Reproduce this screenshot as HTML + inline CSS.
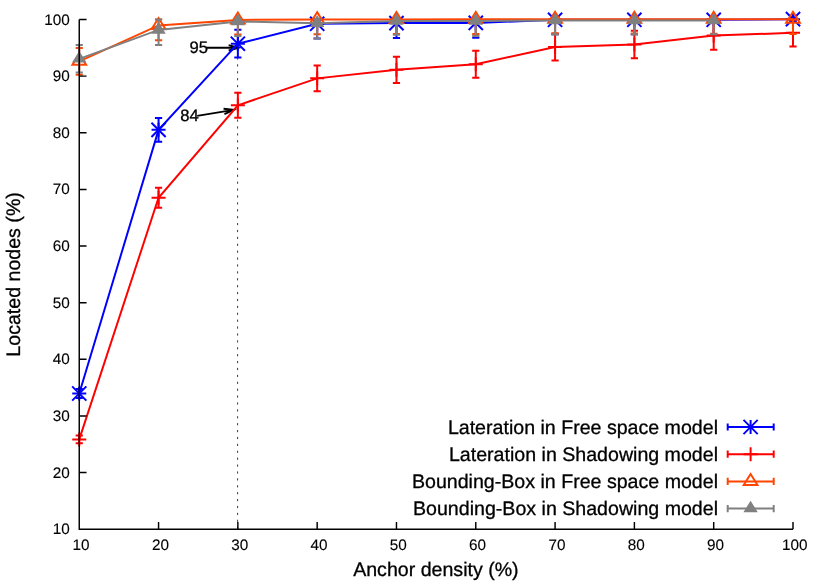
<!DOCTYPE html>
<html><head><meta charset="utf-8"><title>Located nodes vs anchor density</title>
<style>
html,body{margin:0;padding:0;background:#fff;}
body{width:830px;height:581px;overflow:hidden;}
svg{display:block;font-family:"Liberation Sans",sans-serif;fill:#000;will-change:transform;}
text{text-rendering:geometricPrecision;stroke:#000;stroke-width:0.3px;}
text.t{stroke-width:0.12px;}
</style></head><body>
<svg width="830" height="581" viewBox="0 0 830 581">
<rect x="0" y="0" width="830" height="581" fill="#fff"/>
<line x1="237.60" y1="528.80" x2="237.60" y2="47.80" stroke="#000" stroke-width="0.78" stroke-dasharray="2.2 4.7"/>
<path fill="none" stroke="#000" stroke-width="1.90" stroke-linejoin="miter" d="M206.20 47.80L238.50 47.80M228.67 50.53L238.50 47.80L228.67 45.07"/>
<path fill="none" stroke="#000" stroke-width="1.90" stroke-linejoin="miter" d="M197.20 115.90L233.70 109.90M224.44 114.18L233.70 109.90L223.56 108.80"/>
<text x="207.9" y="53.2" text-anchor="end" font-size="16.6">95</text>
<text x="198.7" y="121.0" text-anchor="end" font-size="16.6">84</text>
<polyline fill="none" stroke="#0000ff" stroke-width="1.98" stroke-linejoin="miter" points="79.25,393.50 158.56,129.85 237.86,43.70 317.17,23.80 396.47,23.10 475.78,22.90 555.08,19.80 634.39,19.80 713.69,19.80 793.00,19.15"/>
<path fill="none" stroke="#0000ff" stroke-width="1.98" d="M79.25 388.90V398.10M75.65 388.90H82.85M75.65 398.10H82.85"/>
<path fill="none" stroke="#0000ff" stroke-width="1.98" d="M158.56 118.05V141.65M154.96 118.05H162.16M154.96 141.65H162.16"/>
<path fill="none" stroke="#0000ff" stroke-width="1.98" d="M237.86 29.85V57.55M234.26 29.85H241.46M234.26 57.55H241.46"/>
<path fill="none" stroke="#0000ff" stroke-width="1.98" d="M317.17 19.50V38.40M313.57 19.50H320.77M313.57 38.40H320.77"/>
<path fill="none" stroke="#0000ff" stroke-width="1.98" d="M396.47 19.50V37.90M392.87 19.50H400.07M392.87 37.90H400.07"/>
<path fill="none" stroke="#0000ff" stroke-width="1.98" d="M475.78 19.50V37.70M472.18 19.50H479.38M472.18 37.70H479.38"/>
<path fill="none" stroke="#0000ff" stroke-width="1.98" d="M555.08 19.50V34.30M551.48 19.50H558.68M551.48 34.30H558.68"/>
<path fill="none" stroke="#0000ff" stroke-width="1.98" d="M634.39 19.50V34.30M630.79 19.50H637.99M630.79 34.30H637.99"/>
<path fill="none" stroke="#0000ff" stroke-width="1.98" d="M713.69 19.50V34.30M710.09 19.50H717.29M710.09 34.30H717.29"/>
<path fill="none" stroke="#0000ff" stroke-width="1.98" d="M793.00 17.70V20.60M789.40 17.70H796.60M789.40 20.60H796.60"/>
<path fill="none" stroke="#0000ff" stroke-width="1.98" d="M72.25 393.50H86.25M79.25 386.50V400.50"/>
<path fill="none" stroke="#0000ff" stroke-width="1.98" d="M72.15 386.40L86.35 400.60M72.15 400.60L86.35 386.40"/>
<path fill="none" stroke="#0000ff" stroke-width="1.98" d="M151.56 129.85H165.56M158.56 122.85V136.85"/>
<path fill="none" stroke="#0000ff" stroke-width="1.98" d="M151.46 122.75L165.66 136.95M151.46 136.95L165.66 122.75"/>
<path fill="none" stroke="#0000ff" stroke-width="1.98" d="M230.86 43.70H244.86M237.86 36.70V50.70"/>
<path fill="none" stroke="#0000ff" stroke-width="1.98" d="M230.76 36.60L244.96 50.80M230.76 50.80L244.96 36.60"/>
<path fill="none" stroke="#0000ff" stroke-width="1.98" d="M310.17 23.80H324.17M317.17 16.80V30.80"/>
<path fill="none" stroke="#0000ff" stroke-width="1.98" d="M310.07 16.70L324.27 30.90M310.07 30.90L324.27 16.70"/>
<path fill="none" stroke="#0000ff" stroke-width="1.98" d="M389.47 23.10H403.47M396.47 16.10V30.10"/>
<path fill="none" stroke="#0000ff" stroke-width="1.98" d="M389.37 16.00L403.57 30.20M389.37 30.20L403.57 16.00"/>
<path fill="none" stroke="#0000ff" stroke-width="1.98" d="M468.78 22.90H482.78M475.78 15.90V29.90"/>
<path fill="none" stroke="#0000ff" stroke-width="1.98" d="M468.68 15.80L482.88 30.00M468.68 30.00L482.88 15.80"/>
<path fill="none" stroke="#0000ff" stroke-width="1.98" d="M548.08 19.80H562.08M555.08 12.80V26.80"/>
<path fill="none" stroke="#0000ff" stroke-width="1.98" d="M547.98 12.70L562.18 26.90M547.98 26.90L562.18 12.70"/>
<path fill="none" stroke="#0000ff" stroke-width="1.98" d="M627.39 19.80H641.39M634.39 12.80V26.80"/>
<path fill="none" stroke="#0000ff" stroke-width="1.98" d="M627.29 12.70L641.49 26.90M627.29 26.90L641.49 12.70"/>
<path fill="none" stroke="#0000ff" stroke-width="1.98" d="M706.69 19.80H720.69M713.69 12.80V26.80"/>
<path fill="none" stroke="#0000ff" stroke-width="1.98" d="M706.59 12.70L720.79 26.90M706.59 26.90L720.79 12.70"/>
<path fill="none" stroke="#0000ff" stroke-width="1.98" d="M786.00 19.15H800.00M793.00 12.15V26.15"/>
<path fill="none" stroke="#0000ff" stroke-width="1.98" d="M785.90 12.05L800.10 26.25M785.90 26.25L800.10 12.05"/>
<polyline fill="none" stroke="#ff0000" stroke-width="1.98" stroke-linejoin="miter" points="79.25,439.40 158.56,197.75 237.86,105.25 317.17,78.35 396.47,69.80 475.78,64.20 555.08,47.00 634.39,44.50 713.69,35.50 793.00,32.85"/>
<path fill="none" stroke="#ff0000" stroke-width="1.98" d="M79.25 435.60V443.20M75.65 435.60H82.85M75.65 443.20H82.85"/>
<path fill="none" stroke="#ff0000" stroke-width="1.98" d="M158.56 187.70V207.80M154.96 187.70H162.16M154.96 207.80H162.16"/>
<path fill="none" stroke="#ff0000" stroke-width="1.98" d="M237.86 92.70V117.80M234.26 92.70H241.46M234.26 117.80H241.46"/>
<path fill="none" stroke="#ff0000" stroke-width="1.98" d="M317.17 65.45V91.25M313.57 65.45H320.77M313.57 91.25H320.77"/>
<path fill="none" stroke="#ff0000" stroke-width="1.98" d="M396.47 56.70V82.90M392.87 56.70H400.07M392.87 82.90H400.07"/>
<path fill="none" stroke="#ff0000" stroke-width="1.98" d="M475.78 50.70V77.70M472.18 50.70H479.38M472.18 77.70H479.38"/>
<path fill="none" stroke="#ff0000" stroke-width="1.98" d="M555.08 33.50V60.50M551.48 33.50H558.68M551.48 60.50H558.68"/>
<path fill="none" stroke="#ff0000" stroke-width="1.98" d="M634.39 30.80V58.20M630.79 30.80H637.99M630.79 58.20H637.99"/>
<path fill="none" stroke="#ff0000" stroke-width="1.98" d="M713.69 21.20V49.80M710.09 21.20H717.29M710.09 49.80H717.29"/>
<path fill="none" stroke="#ff0000" stroke-width="1.98" d="M793.00 19.50V46.60M789.40 19.50H796.60M789.40 46.60H796.60"/>
<path fill="none" stroke="#ff0000" stroke-width="1.98" d="M72.25 439.40H86.25M79.25 432.40V446.40"/>
<path fill="none" stroke="#ff0000" stroke-width="1.98" d="M151.56 197.75H165.56M158.56 190.75V204.75"/>
<path fill="none" stroke="#ff0000" stroke-width="1.98" d="M230.86 105.25H244.86M237.86 98.25V112.25"/>
<path fill="none" stroke="#ff0000" stroke-width="1.98" d="M310.17 78.35H324.17M317.17 71.35V85.35"/>
<path fill="none" stroke="#ff0000" stroke-width="1.98" d="M389.47 69.80H403.47M396.47 62.80V76.80"/>
<path fill="none" stroke="#ff0000" stroke-width="1.98" d="M468.78 64.20H482.78M475.78 57.20V71.20"/>
<path fill="none" stroke="#ff0000" stroke-width="1.98" d="M548.08 47.00H562.08M555.08 40.00V54.00"/>
<path fill="none" stroke="#ff0000" stroke-width="1.98" d="M627.39 44.50H641.39M634.39 37.50V51.50"/>
<path fill="none" stroke="#ff0000" stroke-width="1.98" d="M706.69 35.50H720.69M713.69 28.50V42.50"/>
<path fill="none" stroke="#ff0000" stroke-width="1.98" d="M786.00 32.85H800.00M793.00 25.85V39.85"/>
<polyline fill="none" stroke="#ff4500" stroke-width="1.98" stroke-linejoin="miter" points="79.25,61.30 158.56,25.40 237.86,19.90 317.17,19.60 396.47,19.50 475.78,19.35 555.08,19.25 634.39,19.25 713.69,19.20 793.00,19.15"/>
<path fill="none" stroke="#ff4500" stroke-width="1.98" d="M79.25 48.00V74.80M75.65 48.00H82.85M75.65 74.80H82.85"/>
<path fill="none" stroke="#ff4500" stroke-width="1.98" d="M158.56 19.50V40.20M154.96 19.50H162.16M154.96 40.20H162.16"/>
<path fill="none" stroke="#ff4500" stroke-width="1.98" d="M237.86 19.50V34.60M234.26 19.50H241.46M234.26 34.60H241.46"/>
<path fill="none" stroke="#ff4500" stroke-width="1.98" d="M317.17 19.50V34.30M313.57 19.50H320.77M313.57 34.30H320.77"/>
<path fill="none" stroke="#ff4500" stroke-width="1.98" d="M396.47 19.50V33.90M392.87 19.50H400.07M392.87 33.90H400.07"/>
<path fill="none" stroke="#ff4500" stroke-width="1.98" d="M475.78 19.50V33.90M472.18 19.50H479.38M472.18 33.90H479.38"/>
<path fill="none" stroke="#ff4500" stroke-width="1.98" d="M555.08 19.50V33.50M551.48 19.50H558.68M551.48 33.50H558.68"/>
<path fill="none" stroke="#ff4500" stroke-width="1.98" d="M634.39 19.50V33.60M630.79 19.50H637.99M630.79 33.60H637.99"/>
<path fill="none" stroke="#ff4500" stroke-width="1.98" d="M713.69 19.50V33.80M710.09 19.50H717.29M710.09 33.80H717.29"/>
<path fill="none" stroke="#ff4500" stroke-width="1.98" d="M793.00 19.50V33.90M789.40 19.50H796.60M789.40 33.90H796.60"/>
<polygon fill="none" stroke="#ff4500" stroke-width="1.98" stroke-linejoin="miter" points="79.25,53.90 72.40,64.80 86.10,64.80"/>
<polygon fill="none" stroke="#ff4500" stroke-width="1.98" stroke-linejoin="miter" points="158.56,18.00 151.71,28.90 165.41,28.90"/>
<polygon fill="none" stroke="#ff4500" stroke-width="1.98" stroke-linejoin="miter" points="237.86,12.50 231.01,23.40 244.71,23.40"/>
<polygon fill="none" stroke="#ff4500" stroke-width="1.98" stroke-linejoin="miter" points="317.17,12.20 310.32,23.10 324.02,23.10"/>
<polygon fill="none" stroke="#ff4500" stroke-width="1.98" stroke-linejoin="miter" points="396.47,12.10 389.62,23.00 403.32,23.00"/>
<polygon fill="none" stroke="#ff4500" stroke-width="1.98" stroke-linejoin="miter" points="475.78,11.95 468.93,22.85 482.63,22.85"/>
<polygon fill="none" stroke="#ff4500" stroke-width="1.98" stroke-linejoin="miter" points="555.08,11.85 548.23,22.75 561.93,22.75"/>
<polygon fill="none" stroke="#ff4500" stroke-width="1.98" stroke-linejoin="miter" points="634.39,11.85 627.54,22.75 641.24,22.75"/>
<polygon fill="none" stroke="#ff4500" stroke-width="1.98" stroke-linejoin="miter" points="713.69,11.80 706.84,22.70 720.54,22.70"/>
<polygon fill="none" stroke="#ff4500" stroke-width="1.98" stroke-linejoin="miter" points="793.00,11.75 786.15,22.65 799.85,22.65"/>
<polyline fill="none" stroke="#808080" stroke-width="1.98" stroke-linejoin="miter" points="79.25,58.85 158.56,29.90 237.86,21.40 317.17,23.20 396.47,21.00 475.78,20.90 555.08,20.55 634.39,20.55 713.69,20.55"/>
<path fill="none" stroke="#808080" stroke-width="1.98" d="M79.25 45.10V72.60M75.65 45.10H82.85M75.65 72.60H82.85"/>
<path fill="none" stroke="#808080" stroke-width="1.98" d="M158.56 19.50V44.90M154.96 19.50H162.16M154.96 44.90H162.16"/>
<path fill="none" stroke="#808080" stroke-width="1.98" d="M237.86 19.50V36.00M234.26 19.50H241.46M234.26 36.00H241.46"/>
<path fill="none" stroke="#808080" stroke-width="1.98" d="M317.17 19.50V38.40M313.57 19.50H320.77M313.57 38.40H320.77"/>
<path fill="none" stroke="#808080" stroke-width="1.98" d="M396.47 19.50V34.80M392.87 19.50H400.07M392.87 34.80H400.07"/>
<path fill="none" stroke="#808080" stroke-width="1.98" d="M475.78 19.50V35.90M472.18 19.50H479.38M472.18 35.90H479.38"/>
<path fill="none" stroke="#808080" stroke-width="1.98" d="M555.08 19.50V34.50M551.48 19.50H558.68M551.48 34.50H558.68"/>
<path fill="none" stroke="#808080" stroke-width="1.98" d="M634.39 19.50V34.60M630.79 19.50H637.99M630.79 34.60H637.99"/>
<path fill="none" stroke="#808080" stroke-width="1.98" d="M713.69 19.50V34.30M710.09 19.50H717.29M710.09 34.30H717.29"/>
<polygon fill="#808080" stroke="none" points="79.25,51.00 72.05,62.60 86.45,62.60"/>
<polygon fill="#808080" stroke="none" points="158.56,22.05 151.36,33.65 165.76,33.65"/>
<polygon fill="#808080" stroke="none" points="237.86,13.55 230.66,25.15 245.06,25.15"/>
<polygon fill="#808080" stroke="none" points="317.17,15.35 309.97,26.95 324.37,26.95"/>
<polygon fill="#808080" stroke="none" points="396.47,13.15 389.27,24.75 403.67,24.75"/>
<polygon fill="#808080" stroke="none" points="475.78,13.05 468.58,24.65 482.98,24.65"/>
<polygon fill="#808080" stroke="none" points="555.08,12.70 547.88,24.30 562.28,24.30"/>
<polygon fill="#808080" stroke="none" points="634.39,12.70 627.19,24.30 641.59,24.30"/>
<polygon fill="#808080" stroke="none" points="713.69,12.70 706.49,24.30 720.89,24.30"/>
<text x="718.0" y="433.50" text-anchor="end" font-size="19.6">Lateration in Free space model</text>
<path fill="none" stroke="#0000ff" stroke-width="1.98" d="M727.70 427.00H773.70M727.70 423.40V430.60M773.70 423.40V430.60"/>
<path fill="none" stroke="#0000ff" stroke-width="1.98" d="M743.60 427.00H757.60M750.60 420.00V434.00"/>
<path fill="none" stroke="#0000ff" stroke-width="1.98" d="M743.50 419.90L757.70 434.10M743.50 434.10L757.70 419.90"/>
<text x="718.0" y="460.70" text-anchor="end" font-size="19.6">Lateration in Shadowing model</text>
<path fill="none" stroke="#ff0000" stroke-width="1.98" d="M727.70 454.20H773.70M727.70 450.60V457.80M773.70 450.60V457.80"/>
<path fill="none" stroke="#ff0000" stroke-width="1.98" d="M743.60 454.20H757.60M750.60 447.20V461.20"/>
<text x="718.0" y="487.90" text-anchor="end" font-size="19.6">Bounding-Box in Free space model</text>
<path fill="none" stroke="#ff4500" stroke-width="1.98" d="M727.70 481.40H773.70M727.70 477.80V485.00M773.70 477.80V485.00"/>
<polygon fill="none" stroke="#ff4500" stroke-width="1.98" stroke-linejoin="miter" points="750.60,474.00 743.75,484.90 757.45,484.90"/>
<text x="718.0" y="515.10" text-anchor="end" font-size="19.6">Bounding-Box in Shadowing model</text>
<path fill="none" stroke="#808080" stroke-width="1.98" d="M727.70 508.60H773.70M727.70 505.00V512.20M773.70 505.00V512.20"/>
<polygon fill="#808080" stroke="none" points="750.60,500.75 743.40,512.35 757.80,512.35"/>
<path fill="none" stroke="#000" stroke-width="1.45" stroke-linejoin="miter" stroke-linecap="butt" d="M79.25 19.50V529.20H793.00M79.25 529.20H86.55M79.25 529.20V521.90M79.25 472.57H86.55M158.56 529.20V521.90M79.25 415.93H86.55M237.86 529.20V521.90M79.25 359.30H86.55M317.17 529.20V521.90M79.25 302.67H86.55M396.47 529.20V521.90M79.25 246.03H86.55M475.78 529.20V521.90M79.25 189.40H86.55M555.08 529.20V521.90M79.25 132.77H86.55M634.39 529.20V521.90M79.25 76.13H86.55M713.69 529.20V521.90M79.25 19.50H86.55M793.00 529.20V521.90"/>
<text x="69.7" y="534.20" text-anchor="end" class="t" font-size="15.3">10</text>
<text x="81.10" y="550.2" text-anchor="middle" class="t" font-size="15.3">10</text>
<text x="69.7" y="477.57" text-anchor="end" class="t" font-size="15.3">20</text>
<text x="160.41" y="550.2" text-anchor="middle" class="t" font-size="15.3">20</text>
<text x="69.7" y="420.93" text-anchor="end" class="t" font-size="15.3">30</text>
<text x="239.71" y="550.2" text-anchor="middle" class="t" font-size="15.3">30</text>
<text x="69.7" y="364.30" text-anchor="end" class="t" font-size="15.3">40</text>
<text x="319.02" y="550.2" text-anchor="middle" class="t" font-size="15.3">40</text>
<text x="69.7" y="307.67" text-anchor="end" class="t" font-size="15.3">50</text>
<text x="398.32" y="550.2" text-anchor="middle" class="t" font-size="15.3">50</text>
<text x="69.7" y="251.03" text-anchor="end" class="t" font-size="15.3">60</text>
<text x="477.63" y="550.2" text-anchor="middle" class="t" font-size="15.3">60</text>
<text x="69.7" y="194.40" text-anchor="end" class="t" font-size="15.3">70</text>
<text x="556.93" y="550.2" text-anchor="middle" class="t" font-size="15.3">70</text>
<text x="69.7" y="137.77" text-anchor="end" class="t" font-size="15.3">80</text>
<text x="636.24" y="550.2" text-anchor="middle" class="t" font-size="15.3">80</text>
<text x="69.7" y="81.13" text-anchor="end" class="t" font-size="15.3">90</text>
<text x="715.54" y="550.2" text-anchor="middle" class="t" font-size="15.3">90</text>
<text x="69.7" y="24.50" text-anchor="end" class="t" font-size="15.3">100</text>
<text x="794.85" y="550.2" text-anchor="middle" class="t" font-size="15.3">100</text>
<text x="435.9" y="576.3" text-anchor="middle" font-size="19.6">Anchor density (%)</text>
<text transform="translate(20.1,274.4) rotate(-90)" text-anchor="middle" font-size="19.6">Located nodes (%)</text>
</svg>
</body></html>
